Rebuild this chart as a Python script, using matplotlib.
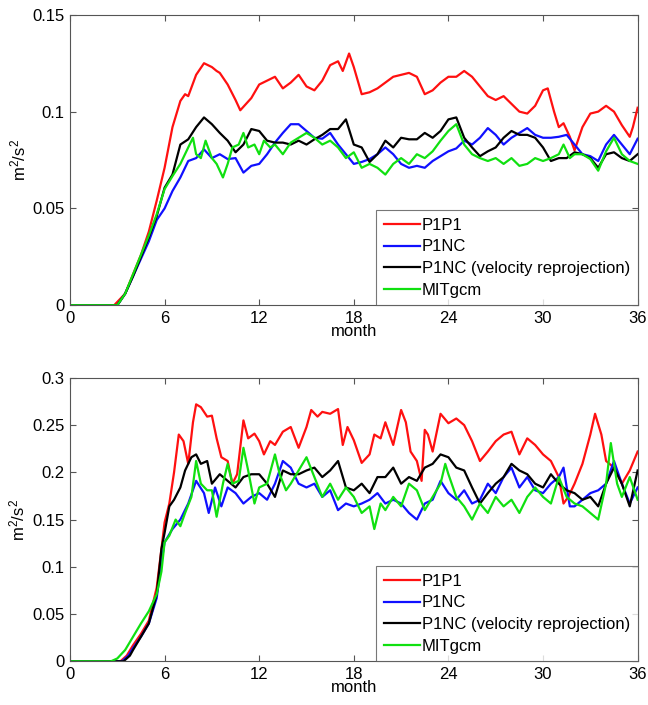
# Energia cinetica media: comparacion P1P1 / P1NC / P1NC reproyectado / MITgcm
# Dos paneles, mismo eje de meses (0-36)

import matplotlib
matplotlib.use("Agg")
import matplotlib.pyplot as plt
from matplotlib.ticker import FuncFormatter

plt.rcParams["font.family"] = ["Liberation Sans", "DejaVu Sans"]
plt.rcParams["mathtext.default"] = "regular"

labels = ["P1P1", "P1NC", "P1NC (velocity reprojection)", "MITgcm"]
colors = ["#ff1010", "#1010ff", "#000000", "#10e010"]

# ---- panel superior ----
top_red_m = [0, 2.8, 3.5, 4, 4.5, 5, 5.5, 6, 6.5, 7,
             7.3, 7.5, 8, 8.5, 9, 9.3, 9.5, 10, 10.5, 10.8,
             11.5, 12, 12.5, 13, 13.5, 14, 14.5, 15, 15.5, 16,
             16.5, 17, 17.3, 17.7, 18, 18.5, 19, 19.5, 20, 20.5,
             21, 21.5, 22, 22.5, 23, 23.5, 24, 24.5, 25, 25.5,
             26, 26.5, 27, 27.5, 28, 28.5, 29, 29.5, 30, 30.3,
             30.7, 31, 31.3, 31.7, 32, 32.5, 33, 33.5, 34, 34.5,
             35, 35.5, 35.7, 36]
top_red = [0, 0, 0.006, 0.016, 0.026, 0.038, 0.054, 0.071, 0.092, 0.1055,
           0.109, 0.108, 0.119, 0.125, 0.123, 0.121, 0.12, 0.114, 0.106, 0.1007,
           0.107, 0.114, 0.116, 0.118, 0.112, 0.115, 0.119, 0.113, 0.111, 0.116,
           0.124, 0.126, 0.121, 0.13, 0.123, 0.109, 0.11, 0.112, 0.115, 0.118,
           0.119, 0.12, 0.118, 0.109, 0.111, 0.115, 0.118, 0.118, 0.121, 0.118,
           0.113, 0.108, 0.106, 0.108, 0.104, 0.1, 0.099, 0.103, 0.111, 0.112,
           0.1, 0.092, 0.094, 0.087, 0.08, 0.092, 0.099, 0.1, 0.103, 0.1,
           0.093, 0.087, 0.092, 0.102]

top_grid_m = [0, 3, 3.5, 4, 4.5, 5, 5.5, 6, 6.5, 7,
              7.5, 8, 8.5, 9, 9.5, 10, 10.5, 11, 11.5, 12,
              12.5, 13, 13.5, 14, 14.5, 15, 15.5, 16, 16.5, 17,
              17.5, 18, 18.5, 19, 19.5, 20, 20.5, 21, 21.5, 22,
              22.5, 23, 23.5, 24, 24.5, 25, 25.5, 26, 26.5, 27,
              27.5, 28, 28.5, 29, 29.5, 30, 30.5, 31, 31.5, 32,
              32.5, 33, 33.5, 34, 34.5, 35, 35.5, 36]
top_blue = [0, 0, 0.006, 0.015, 0.024, 0.033, 0.044, 0.05, 0.059, 0.066,
            0.0745, 0.076, 0.0805, 0.076, 0.078, 0.0755, 0.076, 0.0685, 0.072, 0.073,
            0.078, 0.084, 0.089, 0.0935, 0.0935, 0.09, 0.0865, 0.086, 0.089, 0.083,
            0.078, 0.073, 0.074, 0.0755, 0.078, 0.0815, 0.078, 0.073, 0.071, 0.072,
            0.071, 0.0745, 0.077, 0.0795, 0.081, 0.085, 0.083, 0.0865, 0.0915, 0.088,
            0.083, 0.0865, 0.089, 0.0915, 0.088, 0.0865, 0.0865, 0.087, 0.088, 0.083,
            0.078, 0.077, 0.0745, 0.083, 0.088, 0.083, 0.078, 0.086]
top_black = [0, 0, 0.006, 0.015, 0.025, 0.035, 0.046, 0.0607, 0.0675, 0.083,
             0.0857, 0.092, 0.097, 0.0935, 0.089, 0.085, 0.079, 0.083, 0.091, 0.09,
             0.085, 0.084, 0.084, 0.083, 0.085, 0.083, 0.0857, 0.088, 0.091, 0.091,
             0.096, 0.083, 0.0815, 0.074, 0.078, 0.085, 0.0815, 0.0865, 0.0857, 0.0857,
             0.089, 0.0865, 0.09, 0.096, 0.097, 0.0865, 0.0815, 0.077, 0.0795, 0.0815,
             0.0865, 0.09, 0.088, 0.088, 0.0865, 0.0815, 0.0745, 0.076, 0.076, 0.079,
             0.078, 0.076, 0.071, 0.078, 0.079, 0.076, 0.0745, 0.078]

top_green_m = [0, 3, 3.5, 4, 4.5, 5, 5.5, 6, 6.5, 7,
               7.5, 7.8, 8, 8.3, 8.6, 9, 9.3, 9.7, 10, 10.3,
               10.7, 11, 11.3, 11.7, 12, 12.3, 12.7, 13, 13.5, 14,
               14.5, 15, 15.5, 16, 16.5, 17, 17.5, 18, 18.5, 19,
               19.5, 20, 20.5, 21, 21.5, 22, 22.5, 23, 23.5, 24,
               24.5, 25, 25.5, 26, 26.5, 27, 27.5, 28, 28.5, 29,
               29.5, 30, 30.5, 31, 31.3, 31.7, 32, 32.5, 33, 33.5,
               34, 34.5, 35, 35.5, 36]
top_green = [0, 0, 0.006, 0.016, 0.026, 0.036, 0.047, 0.06, 0.0667, 0.073,
             0.0815, 0.0865, 0.078, 0.076, 0.085, 0.076, 0.073, 0.066, 0.073, 0.0815,
             0.083, 0.089, 0.0815, 0.083, 0.078, 0.085, 0.0815, 0.083, 0.078, 0.084,
             0.0865, 0.089, 0.0865, 0.083, 0.085, 0.0815, 0.076, 0.079, 0.071, 0.073,
             0.071, 0.0675, 0.073, 0.076, 0.073, 0.078, 0.076, 0.0795, 0.085, 0.09,
             0.0935, 0.083, 0.078, 0.076, 0.0745, 0.076, 0.073, 0.076, 0.072, 0.073,
             0.076, 0.0745, 0.076, 0.078, 0.083, 0.076, 0.078, 0.078, 0.0755, 0.0695,
             0.0795, 0.0865, 0.078, 0.0745, 0.073]

# ---- panel inferior ----
bot_red_m = [0, 3.2, 3.6, 4, 4.5, 5, 5.5, 5.8, 6, 6.3,
             6.6, 6.9, 7.2, 7.5, 7.8, 8, 8.3, 8.7, 9, 9.3,
             9.6, 10, 10.3, 10.6, 11, 11.3, 11.7, 12, 12.3, 12.7,
             13, 13.5, 14, 14.5, 15, 15.3, 15.7, 16, 16.5, 17,
             17.3, 17.6, 18, 18.5, 19, 19.3, 19.7, 20, 20.5, 21,
             21.3, 21.6, 22, 22.3, 22.5, 22.7, 23, 23.5, 24, 24.5,
             25, 25.5, 26, 26.5, 27, 27.5, 28, 28.5, 29, 29.5,
             30, 30.5, 31, 31.3, 31.6, 32, 32.5, 33, 33.3, 33.7,
             34, 34.5, 35, 35.5, 36]
bot_red = [0, 0, 0.006, 0.017, 0.029, 0.043, 0.078, 0.119, 0.147, 0.167,
           0.2, 0.24, 0.233, 0.209, 0.253, 0.272, 0.269, 0.259, 0.26, 0.236,
           0.216, 0.212, 0.188, 0.198, 0.255, 0.236, 0.241, 0.233, 0.219, 0.233,
           0.229, 0.243, 0.248, 0.226, 0.248, 0.266, 0.259, 0.264, 0.262, 0.267,
           0.229, 0.248, 0.234, 0.21, 0.219, 0.24, 0.236, 0.253, 0.229, 0.266,
           0.253, 0.222, 0.212, 0.191, 0.245, 0.24, 0.222, 0.262, 0.252, 0.257,
           0.25, 0.233, 0.212, 0.222, 0.233, 0.24, 0.243, 0.219, 0.236, 0.229,
           0.219, 0.212, 0.195, 0.167, 0.174, 0.188, 0.209, 0.24, 0.262, 0.24,
           0.212, 0.205, 0.188, 0.202, 0.222]

bot_blue_m = [0, 3.3, 3.7, 4, 4.5, 5, 5.5, 5.8, 6, 6.5,
              7, 7.5, 8, 8.5, 8.8, 9.2, 9.6, 10, 10.5, 11,
              11.5, 12, 12.5, 13, 13.5, 14, 14.5, 15, 15.5, 16,
              16.5, 17, 17.5, 18, 18.5, 19, 19.5, 20, 20.5, 21,
              21.5, 22, 22.5, 23, 23.5, 24, 24.5, 25, 25.5, 26,
              26.5, 27, 27.5, 28, 28.5, 29, 29.5, 30, 30.5, 31,
              31.3, 31.7, 32, 32.5, 33, 33.5, 34, 34.5, 35, 35.5,
              36]
bot_blue = [0, 0, 0.006, 0.014, 0.026, 0.04, 0.067, 0.105, 0.126, 0.14,
            0.15, 0.167, 0.191, 0.178, 0.157, 0.184, 0.164, 0.184, 0.178, 0.167,
            0.174, 0.178, 0.171, 0.188, 0.212, 0.205, 0.188, 0.184, 0.188, 0.174,
            0.181, 0.16, 0.167, 0.164, 0.167, 0.171, 0.178, 0.167, 0.171, 0.167,
            0.157, 0.15, 0.167, 0.171, 0.191, 0.178, 0.171, 0.181, 0.167, 0.171,
            0.188, 0.178, 0.195, 0.205, 0.184, 0.195, 0.181, 0.178, 0.188, 0.195,
            0.205, 0.164, 0.164, 0.171, 0.178, 0.181, 0.188, 0.212, 0.188, 0.167,
            0.184]

bot_black_m = [0, 3.4, 3.8, 4, 4.5, 5, 5.5, 5.8, 6, 6.3,
               6.6, 7, 7.3, 7.7, 8, 8.3, 8.7, 9, 9.5, 10,
               10.5, 11, 11.5, 12, 12.5, 13, 13.5, 14, 14.5, 15,
               15.5, 16, 16.5, 17, 17.5, 18, 18.5, 19, 19.5, 20,
               20.5, 21, 21.5, 22, 22.5, 23, 23.5, 24, 24.5, 25,
               25.5, 26, 26.5, 27, 27.5, 28, 28.5, 29, 29.5, 30,
               30.5, 31, 31.5, 32, 32.5, 33, 33.5, 34, 34.5, 35,
               35.5, 36]
bot_black = [0, 0, 0.006, 0.012, 0.026, 0.04, 0.071, 0.119, 0.136, 0.164,
             0.171, 0.184, 0.202, 0.216, 0.219, 0.209, 0.212, 0.188, 0.198, 0.191,
             0.184, 0.195, 0.198, 0.198, 0.188, 0.174, 0.202, 0.198, 0.198, 0.202,
             0.205, 0.195, 0.202, 0.212, 0.184, 0.181, 0.188, 0.178, 0.195, 0.195,
             0.205, 0.188, 0.195, 0.191, 0.205, 0.209, 0.219, 0.216, 0.205, 0.202,
             0.184, 0.167, 0.178, 0.188, 0.195, 0.209, 0.202, 0.198, 0.188, 0.184,
             0.198, 0.188, 0.181, 0.178, 0.171, 0.174, 0.164, 0.188, 0.205, 0.188,
             0.164, 0.202]

bot_green_m = [0, 2.6, 3, 3.5, 4, 4.5, 5, 5.5, 5.8, 6,
               6.3, 6.7, 7, 7.3, 7.7, 8, 8.3, 8.7, 9, 9.3,
               9.7, 10, 10.3, 10.7, 11, 11.3, 11.7, 12, 12.5, 13,
               13.3, 13.7, 14, 14.5, 15, 15.5, 16, 16.5, 17, 17.5,
               18, 18.5, 19, 19.3, 19.7, 20, 20.5, 21, 21.5, 22,
               22.5, 23, 23.5, 23.8, 24, 24.5, 25, 25.5, 26, 26.5,
               27, 27.5, 28, 28.5, 29, 29.5, 30, 30.5, 31, 31.5,
               32, 32.5, 33, 33.5, 34, 34.3, 34.7, 35, 35.5, 36]
bot_green = [0, 0, 0.003, 0.012, 0.026, 0.04, 0.053, 0.071, 0.095, 0.126,
             0.133, 0.15, 0.143, 0.157, 0.174, 0.212, 0.188, 0.181, 0.181, 0.153,
             0.188, 0.209, 0.188, 0.191, 0.226, 0.202, 0.167, 0.184, 0.188, 0.219,
             0.198, 0.181, 0.188, 0.202, 0.216, 0.195, 0.174, 0.188, 0.171, 0.184,
             0.174, 0.157, 0.164, 0.14, 0.167, 0.16, 0.174, 0.164, 0.188, 0.181,
             0.16, 0.174, 0.188, 0.209, 0.198, 0.174, 0.164, 0.15, 0.167, 0.157,
             0.174, 0.164, 0.171, 0.157, 0.174, 0.184, 0.174, 0.167, 0.195, 0.174,
             0.167, 0.164, 0.157, 0.15, 0.188, 0.231, 0.188, 0.174, 0.195, 0.171]

month_ticks = [0, 6, 12, 18, 24, 30, 36]
top_yticks = [0, 0.05, 0.1, 0.15]
bot_yticks = [0, 0.05, 0.1, 0.15, 0.2, 0.25, 0.3]


def draw_panel(ax, series, yticks):
    for (m, v), c, lab in zip(series, colors, labels):
        ax.plot(m, v, color=c, lw=1.6, label=lab)
    ax.set_xlim(0, 36)
    ax.set_ylim(yticks[0], yticks[-1])
    ax.set_xticks(month_ticks)
    ax.set_yticks(yticks)
    ax.yaxis.set_major_formatter(FuncFormatter(lambda v, p: f"{v:g}"))
    ax.tick_params(direction="in", top=True, right=True, length=4,
                   labelsize=12, color="#555555", pad=4)
    for s in ax.spines.values():
        s.set_color("#555555")
        s.set_linewidth(0.8)
    ax.set_xlabel("month", fontsize=12, labelpad=-1)
    ax.set_ylabel("m$^2$/s$^2$", fontsize=12, labelpad=3)
    leg = ax.legend(loc="lower right", fontsize=12, frameon=True, fancybox=False,
                    borderaxespad=0, handlelength=2.2, handletextpad=0.1,
                    labelspacing=0.4, borderpad=0.45)
    leg.get_frame().set_edgecolor("#555555")
    leg.get_frame().set_linewidth(0.8)


fig = plt.figure(figsize=(6.48, 7.05), dpi=100)
ax1 = fig.add_axes([0.108, 0.567, 0.876, 0.412])
ax2 = fig.add_axes([0.108, 0.062, 0.876, 0.402])

draw_panel(ax1, [(top_red_m, top_red), (top_grid_m, top_blue),
                 (top_grid_m, top_black), (top_green_m, top_green)], top_yticks)
draw_panel(ax2, [(bot_red_m, bot_red), (bot_blue_m, bot_blue),
                 (bot_black_m, bot_black), (bot_green_m, bot_green)], bot_yticks)

fig.savefig("out.png", dpi=100)
